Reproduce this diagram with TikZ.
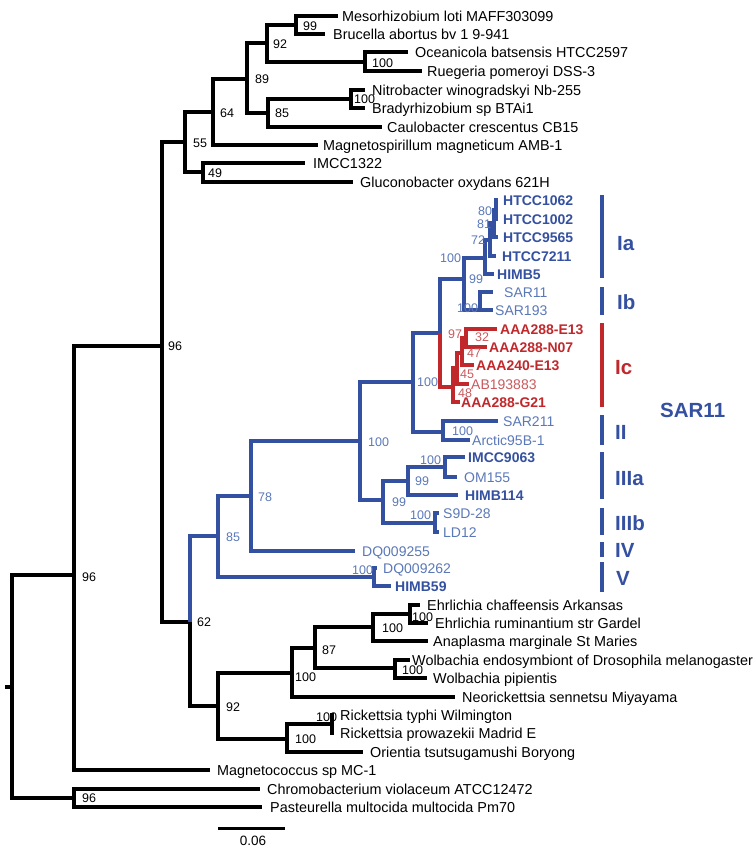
\documentclass[tikz,border=0pt]{standalone}
\usepackage{fontspec}
\setmainfont{Liberation Sans}
\definecolor{sarblue}{HTML}{3450A0}
\definecolor{lightblue}{HTML}{5A78B8}
\definecolor{sarred}{HTML}{C0282C}
\definecolor{lightred}{HTML}{C85A5E}
\newcommand{\tleaf}[6]{%
  \coordinate (t#1) at (#2,#4);
  \node[#5] (l#1) at (#3,#4+5) {#6};}
\newcommand{\bsl}[4]{\node[#1] (#2) at (#3) {#4};}
\begin{document}
\begin{tikzpicture}[x=1pt,y=-1pt,
  bk/.style={line width=3.6pt,black},
  bl/.style={line width=3.2pt,sarblue},
  rd/.style={line width=3.2pt,sarred},
  lab/.style={anchor=base west,inner sep=0pt,font=\fontsize{14.4}{16}\selectfont},
  labB/.style={anchor=base west,inner sep=0pt,font=\fontsize{14}{16}\selectfont\bfseries,text=sarblue},
  labL/.style={anchor=base west,inner sep=0pt,font=\fontsize{14}{16}\selectfont,text=lightblue},
  labR/.style={anchor=base west,inner sep=0pt,font=\fontsize{14}{16}\selectfont\bfseries,text=sarred},
  labRL/.style={anchor=base west,inner sep=0pt,font=\fontsize{14}{16}\selectfont,text=lightred},
  bs/.style={anchor=base west,inner sep=0pt,font=\fontsize{12.5}{14}\selectfont},
  bsB/.style={bs,text=lightblue},
  bsR/.style={bs,text=lightred},
  grp/.style={anchor=base west,inner sep=0pt,font=\fontsize{20.5}{24}\selectfont\bfseries,text=sarblue},
  grpR/.style={grp,text=sarred},
  bar/.style={line width=4pt,sarblue},
  barR/.style={line width=4pt,sarred}
]
\useasboundingbox (0,0) rectangle (755,847);

% ---------- internal nodes ----------
\coordinate (rootL) at (5,687);
\coordinate (root) at (12,687);
\coordinate (nA) at (74,575);
\coordinate (nC) at (74,798);
\coordinate (nB) at (162,346);
\coordinate (n55) at (185,142);
\coordinate (n64) at (213,112);
\coordinate (n89) at (247,79);
\coordinate (n92) at (267,43);
\coordinate (n99) at (296,25);
\coordinate (nOR) at (365,62);
\coordinate (n85) at (268,113);
\coordinate (nNB) at (351,99);
\coordinate (n49) at (203,172);
\coordinate (n62) at (190,622);
\coordinate (nS85) at (218,536);
\coordinate (nS78) at (251,496);
\coordinate (nS100) at (360,441);
\coordinate (nS413) at (413,382);
\coordinate (nS440) at (440,333);
\coordinate (nS465) at (464,279);
\coordinate (nIa) at (485,258);
\coordinate (n72) at (490,240);
\coordinate (n81) at (494,223);
\coordinate (n80) at (496,210);
\coordinate (nIb) at (480,310);
\coordinate (n48) at (453,387);
\coordinate (n45) at (457,368);
\coordinate (n47) at (462,353);
\coordinate (n32) at (466,338);
\coordinate (nII) at (443,432);
\coordinate (nIII) at (383,500);
\coordinate (nIIIa) at (408,481);
\coordinate (nIM) at (445,467);
\coordinate (nIIIb) at (435,523);
\coordinate (nV) at (374,577);
\coordinate (nR92) at (218,706);
\coordinate (nE100) at (292,673);
\coordinate (n87) at (315,648);
\coordinate (nEA) at (373,627);
\coordinate (nEh) at (410,614);
\coordinate (nW) at (395,668);
\coordinate (nRk) at (287,739);
\coordinate (nRt) at (332,724);

% ---------- leaves ----------
\tleaf{Meso}{338}{342}{16}{lab}{Mesorhizobium loti MAFF303099}
\tleaf{Bru}{325}{333}{34}{lab}{Brucella abortus bv 1 9-941}
\tleaf{Oce}{408}{415}{52}{lab}{Oceanicola batsensis HTCC2597}
\tleaf{Rue}{422}{427}{71}{lab}{Ruegeria pomeroyi DSS-3}
\tleaf{Nit}{365}{372}{90}{lab}{Nitrobacter winogradskyi Nb-255}
\tleaf{Bra}{365}{372}{108}{lab}{Bradyrhizobium sp BTAi1}
\tleaf{Cau}{382}{387}{127}{lab}{Caulobacter crescentus CB15}
\tleaf{Mag}{318}{323}{145}{lab}{Magnetospirillum magneticum AMB-1}
\tleaf{IMC}{305}{313}{163}{lab}{IMCC1322}
\tleaf{Glu}{353}{360}{182}{lab}{Gluconobacter oxydans 621H}
\tleaf{H1062}{498}{503}{200}{labB}{HTCC1062}
\tleaf{H1002}{498}{503}{219}{labB}{HTCC1002}
\tleaf{H9565}{498}{503}{237}{labB}{HTCC9565}
\tleaf{H7211}{496}{502}{256}{labB}{HTCC7211}
\tleaf{HIMB5}{494}{497}{274}{labB}{HIMB5}
\tleaf{SAR11}{493}{504}{292}{labL}{SAR11}
\tleaf{SAR193}{493}{495}{310}{labL}{SAR193}
\tleaf{E13}{497}{500}{329}{labR}{AAA288-E13}
\tleaf{N07}{487}{489}{347}{labR}{AAA288-N07}
\tleaf{A240}{474}{476}{365}{labR}{AAA240-E13}
\tleaf{AB}{469}{471}{384}{labRL}{AB193883}
\tleaf{G21}{460}{461}{402}{labR}{AAA288-G21}
\tleaf{S211}{498}{503}{421}{labL}{SAR211}
\tleaf{Arc}{470}{472}{440}{labL}{Arctic95B-1}
\tleaf{IM9}{465}{468}{457}{labB}{IMCC9063}
\tleaf{OM}{457}{464}{477}{labL}{OM155}
\tleaf{H114}{458}{465}{495}{labB}{HIMB114}
\tleaf{S9D}{439}{443}{513}{labL}{S9D-28}
\tleaf{LD}{439}{443}{532}{labL}{LD12}
\tleaf{DQ55}{355}{362}{551}{labL}{DQ009255}
\tleaf{DQ62}{377}{383}{568}{labL}{DQ009262}
\tleaf{H59}{391}{395}{586}{labB}{HIMB59}
\tleaf{Ech}{420}{427}{605}{lab}{Ehrlichia chaffeensis Arkansas}
\tleaf{Eru}{428}{435}{623}{lab}{Ehrlichia ruminantium str Gardel}
\tleaf{Ana}{428}{433}{641}{lab}{Anaplasma marginale St Maries}
\tleaf{Wen}{410}{412}{660}{lab}{Wolbachia endosymbiont of Drosophila melanogaster}
\tleaf{Wpi}{427}{433}{678}{lab}{Wolbachia pipientis}
\tleaf{Neo}{455}{462}{697}{lab}{Neorickettsia sennetsu Miyayama}
\tleaf{Rty}{334}{340}{715}{lab}{Rickettsia typhi Wilmington}
\tleaf{Rpr}{334}{340}{733}{lab}{Rickettsia prowazekii Madrid E}
\tleaf{Ori}{363}{370}{752}{lab}{Orientia tsutsugamushi Boryong}
\tleaf{Mgc}{210}{217}{770}{lab}{Magnetococcus sp MC-1}
\tleaf{Chr}{260}{267}{789}{lab}{Chromobacterium violaceum ATCC12472}
\tleaf{Pas}{262}{270}{807}{lab}{Pasteurella multocida multocida Pm70}

% ---------- black branches ----------
\draw[bk] (rootL) -- (root);
\foreach \p/\c in {root/nA, root/nC, nA/nB, nA/tMgc, nB/n55, nB/n62,
  n55/n64, n55/n49, n64/n89, n64/tMag, n89/n92, n89/n85, n92/n99, n92/nOR,
  n99/tMeso, n99/tBru, nOR/tOce, nOR/tRue, n85/nNB, n85/tCau, nNB/tNit, nNB/tBra,
  n49/tIMC, n49/tGlu, n62/nR92, nR92/nE100, nR92/nRk, nE100/n87, nE100/tNeo,
  n87/nEA, n87/nW, nEA/nEh, nEA/tAna, nEh/tEch, nEh/tEru, nW/tWen, nW/tWpi,
  nRk/nRt, nRk/tOri, nRt/tRty, nRt/tRpr, nC/tChr, nC/tPas}
  \draw[bk] (\p) |- (\c);

% ---------- blue branches ----------
\foreach \p/\c in {n62/nS85, nS85/nS78, nS85/nV, nS78/nS100, nS78/tDQ55,
  nS100/nS413, nS100/nIII, nS413/nS440, nS413/nII, nS440/nS465, nS465/nIa, nS465/nIb,
  nIa/n72, nIa/tHIMB5, n72/n81, n72/tH7211, n81/n80, n81/tH9565, n80/tH1062, n80/tH1002,
  nIb/tSAR11, nIb/tSAR193, nII/tS211, nII/tArc, nIII/nIIIa, nIII/nIIIb,
  nIIIa/nIM, nIIIa/tH114, nIM/tIM9, nIM/tOM, nIIIb/tS9D, nIIIb/tLD, nV/tDQ62, nV/tH59}
  \draw[bl] (\p) |- (\c);

% ---------- red branches ----------
\foreach \p/\c in {nS440/n48, n48/n45, n48/tG21, n45/n47, n45/tAB, n47/n32, n47/tA240,
  n32/tE13, n32/tN07}
  \draw[rd] (\p) |- (\c);

% ---------- bootstrap values ----------
\bsl{bs}{b1}{303,30.5}{99}
\bsl{bs}{b2}{273,48.5}{92}
\bsl{bs}{b3}{372,67.5}{100}
\bsl{bs}{b4}{255,83.5}{89}
\bsl{bs}{b5}{354,103.5}{100}
\bsl{bs}{b6}{275,117.5}{85}
\bsl{bs}{b7}{220,117.5}{64}
\bsl{bs}{b8}{193,147.5}{55}
\bsl{bs}{b9}{208,177.5}{49}
\bsl{bs}{b10}{168,350.5}{96}
\bsl{bs}{b11}{82,581.5}{96}
\bsl{bs}{b12}{197,626.5}{62}
\bsl{bs}{b13}{412,621.5}{100}
\bsl{bs}{b14}{382,632.5}{100}
\bsl{bs}{b15}{322,654.5}{87}
\bsl{bs}{b16}{402,674.5}{100}
\bsl{bs}{b17}{295,681.5}{100}
\bsl{bs}{b18}{226,711.5}{92}
\bsl{bs}{b19}{316,721.5}{100}
\bsl{bs}{b20}{295,743.5}{100}
\bsl{bs}{b21}{82,802.5}{96}
\bsl{bsB}{c1}{478,215.5}{80}
\bsl{bsB}{c2}{477,228}{81}
\bsl{bsB}{c3}{471,244.5}{72}
\bsl{bsB}{c4}{440,262.5}{100}
\bsl{bsB}{c5}{469,283.5}{99}
\bsl{bsB}{c6}{457,312.5}{100}
\bsl{bsB}{c7}{417,386.5}{100}
\bsl{bsB}{c8}{452,435.5}{100}
\bsl{bsB}{c9}{368,446.5}{100}
\bsl{bsB}{c10}{420,464.5}{100}
\bsl{bsB}{c11}{415,485.5}{99}
\bsl{bsB}{c12}{258,501.5}{78}
\bsl{bsB}{c13}{392,506.5}{99}
\bsl{bsB}{c14}{410,519.5}{100}
\bsl{bsB}{c15}{226,541.5}{85}
\bsl{bsB}{c16}{352,574.5}{100}
\bsl{bsR}{d1}{448,338}{97}
\bsl{bsR}{d2}{475,341.5}{32}
\bsl{bsR}{d3}{467,357.5}{47}
\bsl{bsR}{d4}{460,378}{45}
\bsl{bsR}{d5}{458,397}{48}

% ---------- clade bars ----------
\coordinate (a1) at (602,195); \coordinate (a2) at (602,278);
\coordinate (a3) at (602,287); \coordinate (a4) at (602,315);
\coordinate (a5) at (602,323); \coordinate (a6) at (602,407);
\coordinate (a7) at (602,415); \coordinate (a8) at (602,445);
\coordinate (a9) at (602,452); \coordinate (a10) at (602,499);
\coordinate (a11) at (602,508); \coordinate (a12) at (602,535);
\coordinate (a13) at (602,542); \coordinate (a14) at (602,557);
\coordinate (a15) at (602,562); \coordinate (a16) at (602,592);
\draw[bar] (a1) -- (a2);
\draw[bar] (a3) -- (a4);
\draw[barR] (a5) -- (a6);
\draw[bar] (a7) -- (a8);
\draw[bar] (a9) -- (a10);
\draw[bar] (a11) -- (a12);
\draw[bar] (a13) -- (a14);
\draw[bar] (a15) -- (a16);
\node[grp] (gIa) at (617,250) {Ia};
\node[grp] (gIb) at (617,309) {Ib};
\node[grpR] (gIc) at (615,374) {Ic};
\node[grp] (gII) at (615,439) {II};
\node[grp] (gIIIa) at (615,485) {IIIa};
\node[grp] (gIIIb) at (615,530) {IIIb};
\node[grp] (gIV) at (615,557) {IV};
\node[grp] (gV) at (616,585) {V};
\node[grp] (gSAR) at (660,417) {SAR11};

% ---------- scale bar ----------
\coordinate (sb1) at (218,828);
\coordinate (sb2) at (285,828);
\draw[line width=3pt] (sb1) -- (sb2);
\node[anchor=base,inner sep=0pt,font=\fontsize{13.5}{16}\selectfont] (sbl) at (253,845.5) {0.06};
\end{tikzpicture}
\end{document}
